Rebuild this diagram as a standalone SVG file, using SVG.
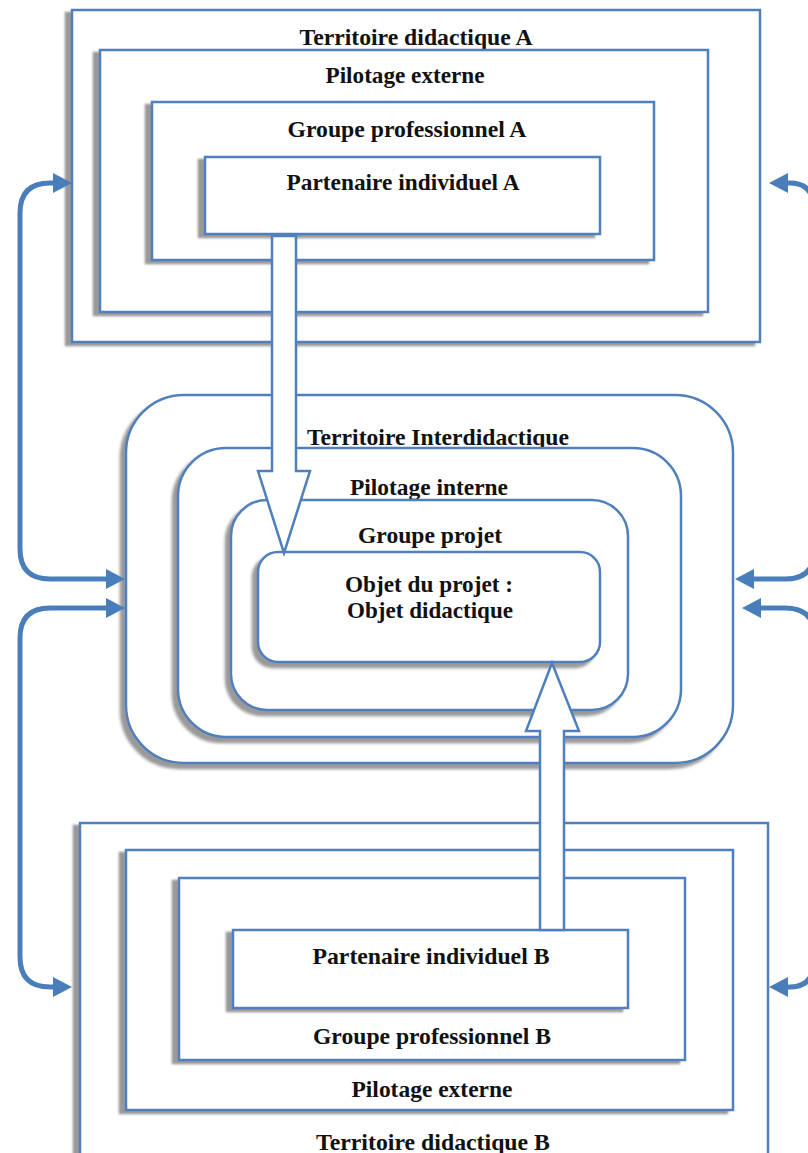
<svg xmlns="http://www.w3.org/2000/svg" width="808" height="1153" viewBox="0 0 808 1153">
<defs>
<filter id="sh" x="-10%" y="-10%" width="120%" height="120%">
<feOffset in="SourceAlpha" dx="-6" dy="3" result="o"/>
<feGaussianBlur in="o" stdDeviation="1.2" result="b"/>
<feFlood flood-color="#999999"/>
<feComposite in2="b" operator="in" result="s"/>
<feMerge><feMergeNode in="s"/><feMergeNode in="SourceGraphic"/></feMerge>
</filter>
<filter id="shr" x="-10%" y="-10%" width="120%" height="120%">
<feOffset in="SourceAlpha" dx="-5" dy="5" result="o"/>
<feGaussianBlur in="o" stdDeviation="1.5" result="b"/>
<feFlood flood-color="#999999"/>
<feComposite in2="b" operator="in" result="s"/>
<feMerge><feMergeNode in="s"/><feMergeNode in="SourceGraphic"/></feMerge>
</filter>
<marker id="ah" markerUnits="userSpaceOnUse" markerWidth="20" markerHeight="22" viewBox="0 0 20 22" refX="1" refY="11" orient="auto-start-reverse">
<path d="M0,1 L19,11 L0,21 z" fill="#4a7ebb"/>
</marker>
<style>
.box{fill:#fff;stroke:#4f7fbd;stroke-width:2.5;filter:url(#sh)}
.rbox{fill:#fff;stroke:#4f7fbd;stroke-width:2.5;filter:url(#shr)}
.blk{fill:#fff;stroke:#4f7fbd;stroke-width:2.5;stroke-linejoin:miter}
.con{fill:none;stroke:#4a7ebb;stroke-width:5;marker-start:url(#ah);marker-end:url(#ah)}
text{font-family:"Liberation Serif","Times New Roman",serif;font-weight:bold;font-size:22.5px;fill:#111;text-anchor:middle}
</style>
</defs>

<g id="territoire-a">
<rect class="box" x="72" y="10" width="688" height="332"/>
<text x="416" y="45" textLength="233" lengthAdjust="spacingAndGlyphs">Territoire didactique A</text>
</g>
<g id="pilotage-externe-a">
<rect class="box" x="100" y="50" width="608" height="262"/>
<text x="405" y="83" textLength="159" lengthAdjust="spacingAndGlyphs">Pilotage externe</text>
</g>
<g id="groupe-pro-a">
<rect class="box" x="152" y="102" width="502" height="158"/>
<text x="407" y="137" textLength="239" lengthAdjust="spacingAndGlyphs">Groupe professionnel A</text>
</g>
<g id="partenaire-a">
<rect class="box" x="205" y="157" width="395" height="77"/>
<text x="403" y="190" textLength="233" lengthAdjust="spacingAndGlyphs">Partenaire individuel A</text>
</g>

<g id="territoire-inter">
<rect class="rbox" x="126" y="395" width="607" height="368" rx="58" ry="58"/>
<text x="438" y="445" textLength="262" lengthAdjust="spacingAndGlyphs">Territoire Interdidactique</text>
</g>
<g id="pilotage-interne">
<rect class="rbox" x="178" y="448" width="503" height="289" rx="48" ry="48"/>
<text x="429" y="495" textLength="158" lengthAdjust="spacingAndGlyphs">Pilotage interne</text>
</g>
<g id="groupe-projet">
<rect class="rbox" x="231" y="500" width="397" height="210" rx="36" ry="36"/>
<text x="430" y="543" textLength="144" lengthAdjust="spacingAndGlyphs">Groupe projet</text>
</g>
<g id="objet">
<rect class="rbox" x="258" y="552" width="342" height="110" rx="20" ry="20"/>
<text x="429" y="592" textLength="168" lengthAdjust="spacingAndGlyphs">Objet du projet :</text>
<text x="430" y="618" textLength="166" lengthAdjust="spacingAndGlyphs">Objet didactique</text>
</g>

<g id="territoire-b">
<rect class="box" x="80" y="823" width="688" height="340"/>
<text x="433" y="1150" textLength="234" lengthAdjust="spacingAndGlyphs">Territoire didactique B</text>
</g>
<g id="pilotage-externe-b">
<rect class="box" x="126" y="850" width="607" height="260"/>
<text x="432" y="1097" textLength="161" lengthAdjust="spacingAndGlyphs">Pilotage externe</text>
</g>
<g id="groupe-pro-b">
<rect class="box" x="179" y="878" width="506" height="182"/>
<text x="432" y="1044" textLength="238" lengthAdjust="spacingAndGlyphs">Groupe professionnel B</text>
</g>
<g id="partenaire-b">
<rect class="box" x="233" y="930" width="395" height="78"/>
<text x="431" y="964" textLength="237" lengthAdjust="spacingAndGlyphs">Partenaire individuel B</text>
</g>

<g id="connectors">
<polygon class="blk" points="272,236 296,236 296,471 310,471 284,553 258,471 272,471"/>
<polygon class="blk" points="552,663 579,731 564,731 564,930 540,930 540,731 526,731"/>
<path class="con" d="M107,579 L50,579 Q20,579 20,549 L20,213 Q20,183 50,183 L54,183"/>
<path class="con" d="M107,608 L50,608 Q20,608 20,638 L20,957 Q20,987 50,987 L54,987"/>
<path class="con" d="M753,579 L785,579 Q815,579 815,549 L815,213 Q815,183 790,183 L787,183"/>
<path class="con" d="M760,608 L785,608 Q815,608 815,638 L815,957 Q815,987 790,987 L787,987"/>
</g>
</svg>
